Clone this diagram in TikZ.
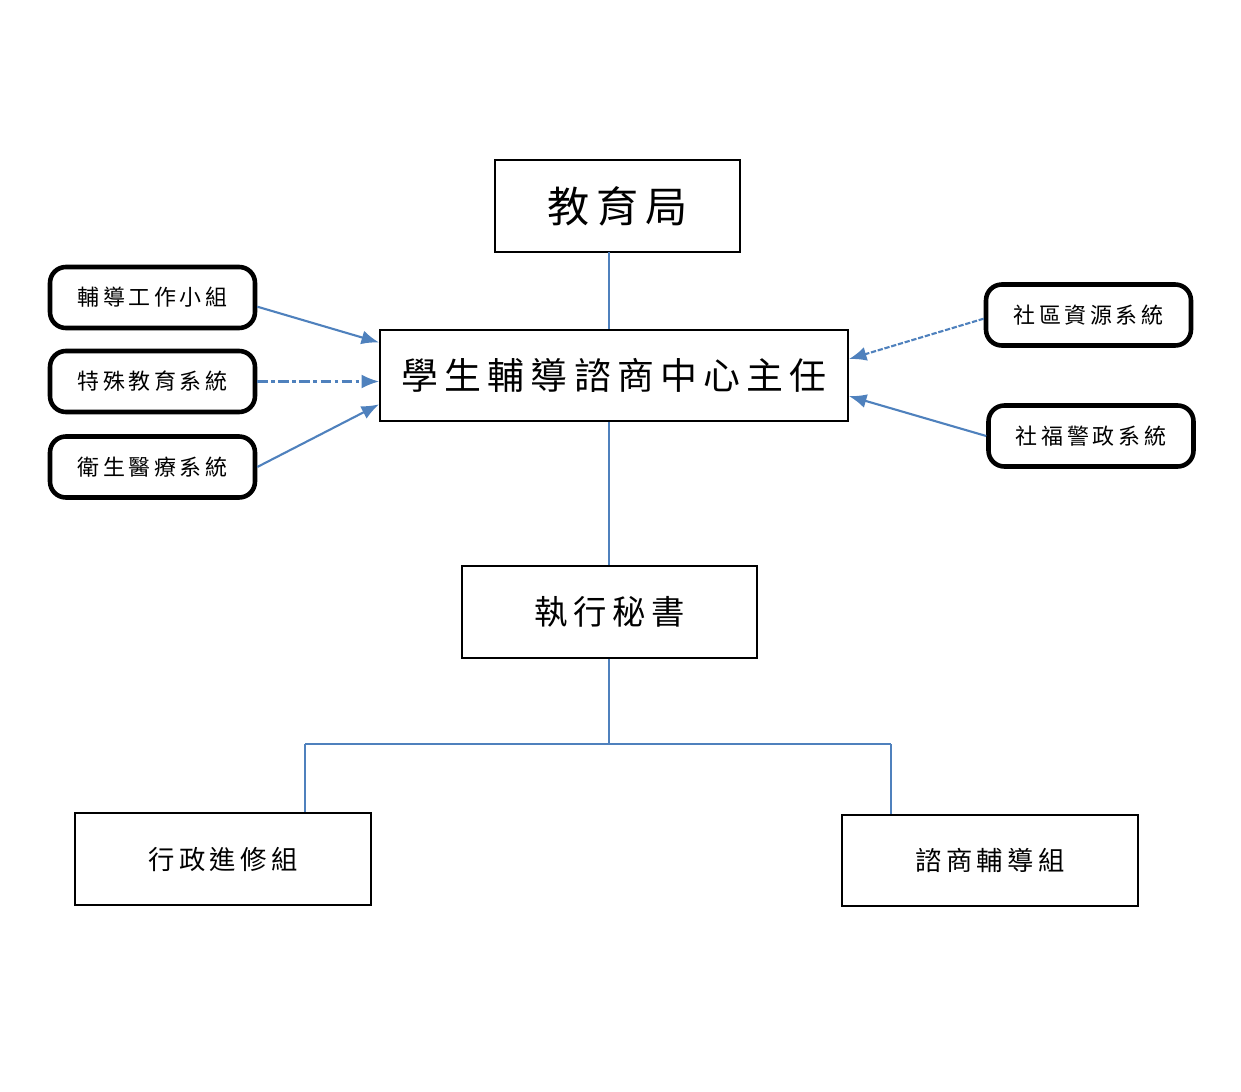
\documentclass[tikz,border=0pt]{standalone}
\usepackage{fontspec}
\newfontfamily\cjk{Noto Sans CJK TC}
\usetikzlibrary{arrows.meta}
\definecolor{lineblue}{RGB}{79,129,189}
\begin{document}
\begin{tikzpicture}[x=0.02cm, y=-0.02cm,
    box/.style={draw, line width=1.1pt, rectangle, inner sep=0pt, font=\cjk},
    side/.style={draw, line width=2.6pt, rounded corners=9pt, inner sep=0pt,
      minimum width=4.1cm, minimum height=1.22cm, font=\cjk\fontsize{12.5}{12.5}\selectfont},
    link/.style={lineblue, line width=1.2pt},
    feed/.style={lineblue, line width=1.2pt, -{Latex[length=10pt,width=8pt]}}]
      \useasboundingbox (0,0) rectangle (1241,1092);

      % main chain
      \node (edu) [box, minimum width=4.9cm, minimum height=1.84cm,
        font=\cjk\fontsize{24}{24}\selectfont] at (617.5,206) {教\,育\,局};
      \node (dir) [box, minimum width=9.36cm, minimum height=1.82cm,
        font=\cjk\fontsize{21}{21}\selectfont] at (614,375.5) {學\,生\,輔\,導\,諮\,商\,中\,心\,主\,任};
      \node (sec) [box, minimum width=5.9cm, minimum height=1.84cm,
        font=\cjk\fontsize{19}{19}\selectfont] at (609.5,612) {執\,行\,秘\,書};
      \node (adm) [box, minimum width=5.92cm, minimum height=1.84cm,
        font=\cjk\fontsize{15}{15}\selectfont] at (223,859) {行\,政\,進\,修\,組};
      \node (cou) [box, minimum width=5.92cm, minimum height=1.82cm,
        font=\cjk\fontsize{15}{15}\selectfont] at (990,860.5) {諮\,商\,輔\,導\,組};

      % partner systems
      \node (grp) [side] at (152.5,297.5) {輔\,導\,工\,作\,小\,組};
      \node (spe) [side] at (152.5,381.5) {特\,殊\,教\,育\,系\,統};
      \node (hea) [side] at (152.5,467)   {衛\,生\,醫\,療\,系\,統};
      \node (com) [side] at (1088.5,315)  {社\,區\,資\,源\,系\,統};
      \node (wel) [side] at (1091,436)    {社\,福\,警\,政\,系\,統};

      % vertical links
      \coordinate (top) at (609,252);
      \coordinate (fork) at (609,744);
      \coordinate (forkl) at (305,744);
      \coordinate (forkr) at (891,744);
      \draw [link] (top) -- (top |- dir.north);
      \draw [link] (top |- dir.south) -- (top |- sec.north);
      \draw [link] (top |- sec.south) -- (fork);
      \draw [link] (forkl) -- (forkr);
      \draw [link] (forkl) -- (forkl |- adm.north);
      \draw [link] (forkr) -- (forkr |- cou.north);

      % arrows into the director
      \draw [feed] (grp.-5) -- (dir.172.8);
      \draw [feed, dash pattern=on 6pt off 2pt on 2pt off 2pt] (spe.east) -- (spe.east -| dir.west);
      \draw [feed] (hea.east) -- (dir.187.2);
      \draw [feed, dash pattern=on 3pt off 1pt] (com.182.7) -- (dir.4.3);
      \draw [feed] (wel.west) -- (dir.-5);
    \end{tikzpicture}
\end{document}
